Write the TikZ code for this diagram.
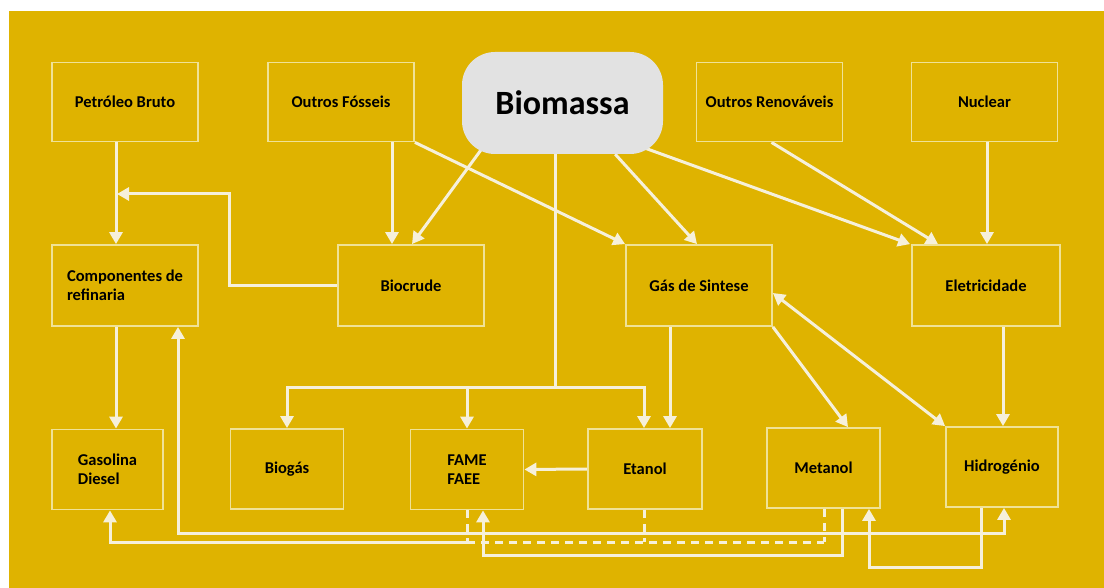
\documentclass[tikz,border=0pt]{standalone}
\usepackage{fontspec}
\setmainfont{Carlito}
\usetikzlibrary{arrows.meta}
\definecolor{bgy}{RGB}{223,179,0}
\definecolor{boxc}{RGB}{240,226,150}
\definecolor{linec}{RGB}{246,240,218}
\definecolor{biof}{RGB}{226,226,226}
\pgfdeclarelayer{back}
\pgfdeclarelayer{mid}
\pgfsetlayers{back,mid,main}
\begin{document}
\begin{tikzpicture}[x=1pt,y=-1pt,
  box/.style={draw=boxc, line width=1.8pt, minimum width=146pt, minimum height=79pt, inner sep=2pt,
    font=\fontsize{16.5}{19.5}\selectfont\bfseries, text=black, align=center},
  sbox/.style={box, minimum width=113pt, minimum height=80pt},
  conn/.style={draw=linec, line width=3pt},
  arr/.style={conn, -{Triangle[width=13pt,length=12pt]}},
  darr/.style={conn, {Triangle[width=13pt,length=12pt]}-{Triangle[width=13pt,length=12pt]}},
  dashedconn/.style={conn, dash pattern=on 8pt off 6pt},
]
\useasboundingbox (0,0) rectangle (1104,588);
\begin{pgfonlayer}{back}
\fill[white] (0,0) rectangle (1104,588);
\fill[bgy] (9,11) rectangle (1104,588);
\end{pgfonlayer}

% row 1
\node[box] (pb) at (125,102) {Petróleo Bruto};
\node[box] (of) at (341,102) {Outros Fósseis};
\node[fill=biof, rounded corners=33pt, minimum width=201pt, minimum height=102pt,
  font=\fontsize{34}{40}\selectfont\bfseries, text=black] (bio) at (562.5,103) {Biomassa};
\node[box] (or) at (769.5,102) {Outros Renováveis};
\node[box] (nu) at (984.5,102) {Nuclear};
% row 2
\node[box, minimum height=81pt, align=left] (cr) at (125,285.5) {Componentes de\\refinaria};
\node[box, minimum height=81pt] (bc) at (411,285.5) {Biocrude};
\node[box, minimum height=81pt] (gs) at (699,285.5) {Gás de Sintese};
\node[box, minimum height=81pt, minimum width=148pt] (el) at (986,285.5) {Eletricidade};
% row 3
\node[sbox, minimum width=111pt, align=left] (gd) at (107.5,469.5) {Gasolina\\Diesel};
\node[sbox] (bg) at (287,469) {Biogás};
\node[sbox, align=left] (fa) at (467,469.5) {FAME\\FAEE};
\node[sbox, minimum width=114pt] (et) at (645,469) {Etanol};
\node[sbox] (me) at (823.5,468) {Metanol};
\node[sbox, minimum width=112pt] (hi) at (1002,467) {Hidrogénio};

\coordinate (j1) at (117,194);
\coordinate (sp) at (555,387);
\coordinate (fj) at (467,542);

\begin{pgfonlayer}{mid}
\draw[arr] (116,0 |- pb.south) -- (116,0 |- cr.north);
\draw[arr] (bc.west) -- (229,0 |- bc.west) -- (229,194) -- (j1);
\draw[arr] (392,0 |- of.south) -- (392,0 |- bc.north);
\draw[arr] ([xshift=19pt,yshift=4pt]bio.south west) -- ([xshift=1pt]bc.north);
\draw[arr] (of.south east) -- (gs.north west);
\draw[arr] ([xshift=-48pt]bio.south east) -- ([xshift=-2pt]gs.north);
\draw[arr] ([xshift=-18pt,yshift=6pt]bio.south east) -- ([xshift=-1pt]el.north west);
\draw[arr] ([xshift=2pt]or.south) -- ([xshift=-48pt]el.north);
\draw[arr] (987,0 |- nu.south) -- (987,0 |- el.north);
\draw[conn] (555,0 |- bio.south) -- (sp);
\draw[arr] (sp) -| (bg.north);
\draw[arr] (sp) -| (fa.north);
\draw[arr] (sp) -| (644,0 |- et.north);
\draw[arr] (670,0 |- gs.south) -- (670,0 |- et.north);
\draw[arr] (gs.south east) -- ([xshift=24.5pt]me.north);
\draw[darr] ([yshift=-7.5pt]gs.east) -- (hi.north west);
\draw[arr] (1003,0 |- el.south) -- (1003,0 |- hi.north);
\draw[arr] (116,0 |- cr.south) -- (116,0 |- gd.north);
\draw[arr] (et.west) -- (fa.east);
% bottom network
\draw[darr] (178,0 |- cr.south) -- (178,533) -- (1004,533) -- (1004,0 |- hi.south);
\draw[dashedconn] (467,0 |- fa.south) -- (fj);
\draw[arr] (fj) -| (110,0 |- gd.south);
\draw[dashedconn] (fj) -- (824,542);
\draw[dashedconn] (644,0 |- et.south) -- (644,542);
\draw[dashedconn] (824,0 |- me.south) -- (824,542);
\draw[arr] (842,0 |- me.south) -- (842,555) -| (483,0 |- fa.south);
\draw[arr] (981,0 |- hi.south) -- (981,567) -| (869,0 |- me.south);
\end{pgfonlayer}
\end{tikzpicture}
\end{document}
